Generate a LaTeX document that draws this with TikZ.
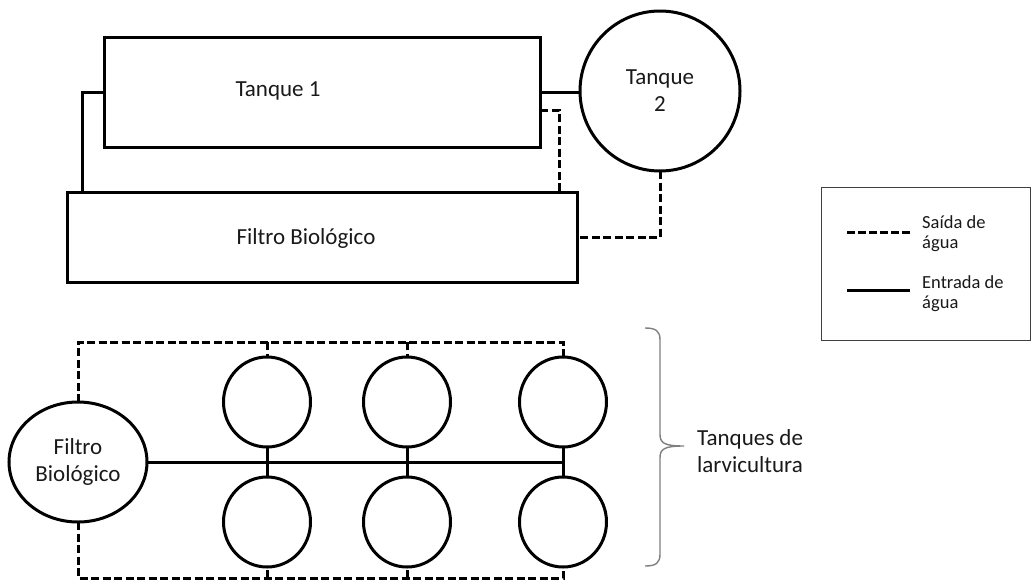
\documentclass[tikz,border=0pt]{standalone}
\usepackage{fontspec}
\setmainfont{Carlito}
\usetikzlibrary{shapes.geometric,calc}
\tikzset{
  pipe/.style={line width=3pt, line join=miter},
  dpipe/.style={line width=3pt, dash pattern=on 8pt off 3.5pt},
  tank/.style={draw, line width=3pt, inner sep=0pt, outer sep=0pt},
  bigtxt/.style={font=\fontsize{23}{27}\selectfont, align=center, inner sep=0pt, text=black!90},
  legtxt/.style={font=\fontsize{18.5}{20}\selectfont, align=left, inner sep=0pt, text=black!90},
}
\begin{document}
\begin{tikzpicture}[x=1pt,y=-1pt]
\useasboundingbox (0,0) rectangle (1035,584);
% ---------- top system ----------
\node[tank, rectangle, minimum width=436pt, minimum height=110pt] (t1) at (322,92) {};
\node[bigtxt] (t1l) at (278,91) {Tanque 1};
\node[tank, rectangle, minimum width=510pt, minimum height=90pt] (f1) at (322,237) {};
\node[bigtxt] (f1l) at (306,238) {Filtro Biológico};
\node[tank, circle, minimum size=160pt, bigtxt] (t2) at (660,91) {Tanque\\2};
\draw[pipe] (t1.west) -| ([xshift=15pt]f1.north west);
\draw[pipe] (t1.east) -- (t1.east -| t2.west);
\draw[dpipe] ([yshift=-18pt]t1.east) -| ([xshift=-18pt]f1.north east);
\draw[dpipe] (t2.south) |- (f1.east);
% ---------- bottom system ----------
\node[tank, ellipse, minimum width=138pt, minimum height=120pt, bigtxt] (fb) at (78,462) {Filtro\\Biológico};
\foreach \n/\x in {1/267,2/407,3/563}{
  \node[tank, ellipse, minimum width=87pt, minimum height=90pt] (a\n) at (\x,402) {};
  \node[tank, ellipse, minimum width=87pt, minimum height=90pt] (b\n) at (\x,522) {};
}
\coordinate (topline) at (0,342);
\coordinate (botline) at (0,578);
\draw[dpipe] (fb.north) |- (a3.north |- topline) -- (a3.north);
\draw[dpipe] (a1.north |- topline) -- (a1.north);
\draw[dpipe] (a2.north |- topline) -- (a2.north);
\draw[dpipe] (fb.south) |- (b3.south |- botline) -- (b3.south);
\draw[dpipe] (b1.south |- botline) -- (b1.south);
\draw[dpipe] (b2.south |- botline) -- (b2.south);
\draw[pipe] (fb.east) -- (fb.east -| a3.south);
\foreach \n in {1,2,3}{ \draw[pipe] (a\n.south) -- (b\n.north); }
% brace
\draw[line width=1.4pt, color=black!50]
  (645,328) .. controls (656,328) and (660,331) .. (660,340) -- (660,434)
  .. controls (660,443) and (664,446) .. (684,446)
  .. controls (664,446) and (660,449) .. (660,458) -- (660,554)
  .. controls (660,563) and (656,566) .. (645,566);
\node[bigtxt, align=left, anchor=west] (lbl) at (697,451) {Tanques de\\larvicultura};
% ---------- legend ----------
\node[draw=black!75, line width=1pt, minimum width=209pt, minimum height=153pt, inner sep=0pt] (leg) at (925.5,263.5) {};
\coordinate (d1) at (847,232);
\coordinate (d2) at (910,232);
\coordinate (s1) at (847,290);
\coordinate (s2) at (910,290);
\draw[line width=3pt, dash pattern=on 8pt off 3pt] (d1) -- (d2);
\draw[line width=3pt] (s1) -- (s2);
\node[legtxt, anchor=west] (l1) at (922,234) {Saída de\\água};
\node[legtxt, anchor=west] (l2) at (922,294) {Entrada de\\água};
\end{tikzpicture}
\end{document}
